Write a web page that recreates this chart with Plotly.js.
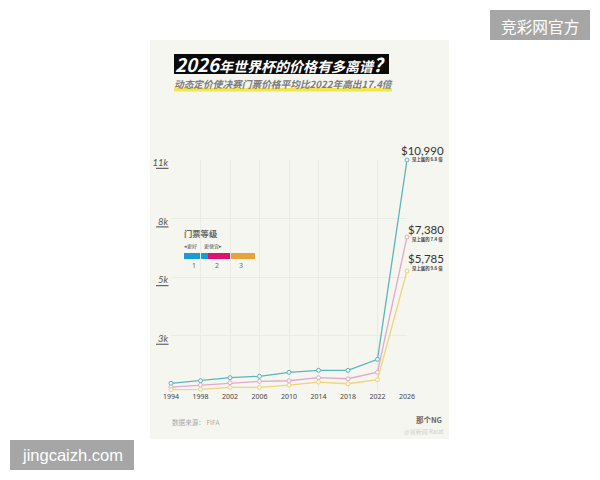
<!DOCTYPE html>
<html><head><meta charset="utf-8">
<script src="https://cdn.plot.ly/plotly-3.0.1.min.js"></script>
<style>html,body{margin:0;padding:0;background:#fff}#c{width:600px;height:480px}</style>
</head><body><div id="c"></div>
<script>
const years = ['1994','1998','2002','2006','2010','2014','2018','2022','2026'];
const tier1 = [520,640,785,850,1035,1130,1130,1645,10990];
const tier2 = [345,440,550,615,640,785,735,1040,7380];
const tier3 = [220,240,330,330,440,580,500,690,5785];
const tierNames = ['1','2','3'];
const yTickVals = [2750,5500,8250,11000];
const yTickText = ['<i>3k</i>','<i>5k</i>','<i>8k</i>','<i>11k</i>'];
const priceLabels = ['$10,990','$7,380','$5,785'];
const ratioLabels = ['是上届的 6.8 倍','是上届的 7.4 倍','是上届的 9.6 倍'];
const titleText = '2026年世界杯的价格有多离谱?';
const subtitleText = '动态定价使决赛门票价格平均比2022年高出17.4倍';

const CJK = '"Noto Sans CJK SC","Noto Sans",sans-serif';
const W = 600, H = 480;
const px = x => x / W, py = y => 1 - y / H;
const rect = (x0,y0,x1,y1,c) => ({type:'rect',xref:'paper',yref:'paper',x0:px(x0),x1:px(x1),y0:py(y0),y1:py(y1),fillcolor:c,line:{width:0},layer:'below'});
const txt = (x,y,t,size,color,anchor,family) => ({xref:'paper',yref:'paper',x:px(x),y:py(y),text:t,showarrow:false,borderpad:0,borderwidth:0,xanchor:anchor||'left',yanchor:'middle',font:{family:family||CJK,size:size,color:color}});
const line = (name,vals,color) => ({type:'scatter',mode:'lines+markers',x:years,y:vals,name:name,cliponaxis:false,
  line:{color:color,width:1.3},marker:{symbol:'circle',size:4,color:'#f5f6f0',line:{color:color,width:1}},hoverinfo:'skip'});

const shapes = [
  rect(150,40,449,439,'#f5f6f0'),
  rect(174,54,389,74,'#0a0a0a'),
  rect(174,88,392,91.5,'#f2e64a'),
  rect(184,253,208,259,'#1a9ad6'),
  rect(208,253,231,259,'#e0106e'),
  rect(231,253,255,259,'#e8a23c'),
  rect(490,10,590,40,'#a6a6a6'),
  rect(10,440,134,470,'#a6a6a6')
];
yTickVals.forEach(v => shapes.push({type:'line',xref:'paper',yref:'y',ysizemode:'pixel',yanchor:v,x0:px(156),x1:px(168.5),y0:-8.5,y1:-8.5,line:{color:'#666',width:1.2}}));

const styledTitle = titleText.replace(/[0-9?]+/g, m => '<span style="font-size:18.6px">'+m+'</span>');
const annotations = [
  txt(175,64,'<b><i>'+styledTitle+'</i></b>',14,'#fff'),
  txt(174,84,'<b><i>'+subtitleText+'</i></b>',9.7,'#7c7c7c'),
  txt(183.5,233,'<b>门票等级</b>',8.3,'#666'),
  txt(183.5,246,'◂更好',5,'#555'),
  txt(213,246,'更便宜▸',5,'#555','center'),
  txt(172,422,'数据来源： FIFA',6.6,'#aaa'),
  txt(442,419,'<b>那个NG</b>',7.5,'#666','right'),
  txt(444,431,'@冒新闻 Ralat',6,'#cfcfcf','right'),
  txt(540,26,'竞彩网官方',15.7,'#fff','center'),
  txt(72,455,'jingcaizh.com',16.5,'#fff','center','"Liberation Sans",sans-serif')
];
[194,217,241].forEach((x,i) => annotations.push(txt(x,265.5,tierNames[i],7,'#666','center','"Noto Sans",sans-serif')));
[150,229,258].forEach((y,i) => annotations.push(txt(443.5,y,priceLabels[i],11.5,'#333','right','Lato,sans-serif')));
[159.5,239,268].forEach((y,i) => annotations.push(txt(443,y,'<b>'+ratioLabels[i]+'</b>',4.4,'#444','right')));

Plotly.newPlot('c',[line('1',tier1,'#5bb5bb'),line('2',tier2,'#dfa9c9'),line('3',tier3,'#f0d477')],{
  width:W,height:H,margin:{l:0,r:0,t:0,b:0,pad:0},paper_bgcolor:'#fff',plot_bgcolor:'rgba(0,0,0,0)',showlegend:false,
  xaxis:{domain:[px(171),px(407)],type:'category',range:[0,8],tickmode:'array',tickvals:years,ticktext:years,showgrid:true,gridcolor:'#ebebe6',gridwidth:1,zeroline:false,showline:false,ticks:'',tickfont:{family:'"Noto Sans",sans-serif',size:7,color:'#444'},automargin:false},
  yaxis:{domain:[py(391),py(159.8)],range:[160,11000],tickmode:'array',tickvals:yTickVals,ticktext:yTickText,showgrid:true,gridcolor:'#ebebe6',gridwidth:1,zeroline:false,showline:false,ticks:'',tickfont:{family:'Lato,sans-serif',size:9.5,color:'#555'},ticklabelshift:3,ticklabelstandoff:2,automargin:false},
  shapes:shapes,annotations:annotations
},{staticPlot:true,displayModeBar:false});
</script></body></html>
